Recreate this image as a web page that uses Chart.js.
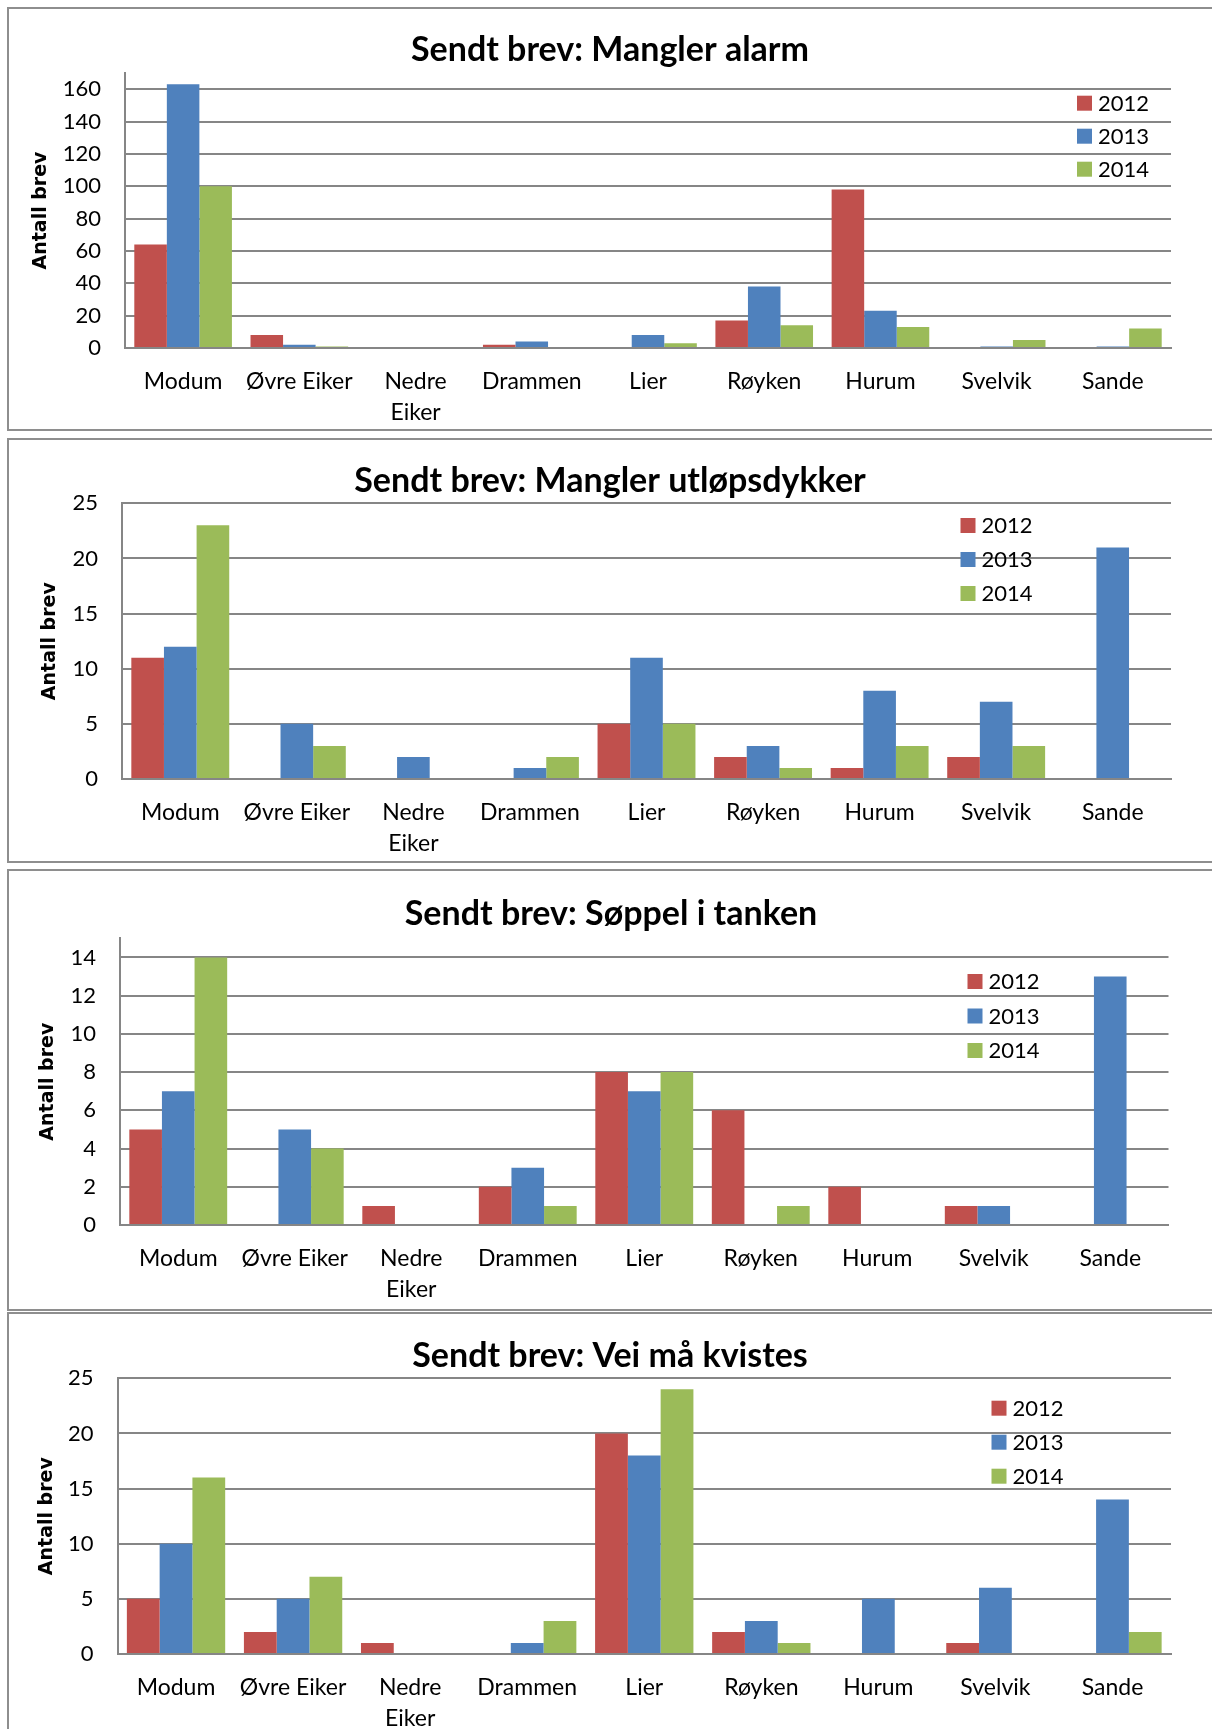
<!DOCTYPE html>
<html lang="no">
<head>
<meta charset="utf-8">
<title>Sendt brev</title>
<script src="https://cdn.jsdelivr.net/npm/chart.js@4.4.1/dist/chart.umd.min.js"></script>
<style>
    html, body { margin: 0; padding: 0; background: #fff; }
    body { position: relative; width: 1212px; height: 1729px; overflow: hidden; }
    .panel { position: absolute; left: 7px; width: 1240px; border: 2px solid #8e8e8e; box-sizing: border-box; }
    canvas { position: absolute; left: 0; }
</style>
</head>
<body>
<div class="panel" style="top:7px;height:424px"></div>
<div class="panel" style="top:438px;height:425px"></div>
<div class="panel" style="top:869px;height:442px"></div>
<div class="panel" style="top:1312px;height:500px"></div>

<canvas id="alarmChart" width="1212" height="424" style="top:7px"></canvas>
<canvas id="dykkerChart" width="1212" height="425" style="top:438px"></canvas>
<canvas id="soppelChart" width="1212" height="442" style="top:869px"></canvas>
<canvas id="kvistChart" width="1212" height="417" style="top:1312px"></canvas>

<script>
const kommuner = ['Modum', 'Øvre Eiker', ['Nedre', 'Eiker'], 'Drammen', 'Lier', 'Røyken', 'Hurum', 'Svelvik', 'Sande'];
const years = ['2012', '2013', '2014'];

// Sendt brev: Mangler alarm
const alarm2012 = [64, 8, 0, 2, 0, 17, 98, 0, 0];
const alarm2013 = [163, 2, 0, 4, 8, 38, 23, 1, 1];
const alarm2014 = [100, 1, 0, 0, 3, 14, 13, 5, 12];
const alarmTicks = [0, 20, 40, 60, 80, 100, 120, 140, 160];

// Sendt brev: Mangler utløpsdykker
const dykker2012 = [11, 0, 0, 0, 5, 2, 1, 2, 0];
const dykker2013 = [12, 5, 2, 1, 11, 3, 8, 7, 21];
const dykker2014 = [23, 3, 0, 2, 5, 1, 3, 3, 0];
const dykkerTicks = [0, 5, 10, 15, 20, 25];

// Sendt brev: Søppel i tanken
const soppel2012 = [5, 0, 1, 2, 8, 6, 2, 1, 0];
const soppel2013 = [7, 5, 0, 3, 7, 0, 0, 1, 13];
const soppel2014 = [14, 4, 0, 1, 8, 1, 0, 0, 0];
const soppelTicks = [0, 2, 4, 6, 8, 10, 12, 14];

// Sendt brev: Vei må kvistes
const kvist2012 = [5, 2, 1, 0, 20, 2, 0, 1, 0];
const kvist2013 = [10, 5, 0, 1, 18, 3, 5, 6, 14];
const kvist2014 = [16, 7, 0, 3, 24, 1, 0, 0, 2];
const kvistTicks = [0, 5, 10, 15, 20, 25];

const colors = ['#C0504D', '#4F81BD', '#9BBB59'];
const gridGray = '#868686';

// legend drawn inside the plot area, like the Excel original
const yearLegend = {
    id: 'yearLegend',
    afterDraw(chart, args, opts) {
        const ctx = chart.ctx;
        ctx.save();
        ctx.font = '22px Lato';
        ctx.textBaseline = 'middle';
        ctx.textAlign = 'left';
        chart.data.datasets.forEach((ds, i) => {
            const y = opts.y + i * opts.gap;
            ctx.fillStyle = ds.backgroundColor;
            ctx.fillRect(opts.x, y, 15, 15);
            ctx.fillStyle = '#000';
            ctx.fillText(ds.label, opts.x + 21, y + 8);
        });
        ctx.restore();
    }
};

function drawChart(id, title, v2012, v2013, v2014, tickValues, s) {
    const canvas = document.getElementById(id);
    const h = canvas.height;
    const tLine = 34 * 1.2;
    const yLine = 19 * 1.2;

    new Chart(canvas.getContext('2d'), {
        type: 'bar',
        data: {
            labels: kommuner,
            datasets: [
                { label: years[0], data: v2012, backgroundColor: colors[0] },
                { label: years[1], data: v2013, backgroundColor: colors[1] },
                { label: years[2], data: v2014, backgroundColor: colors[2] }
            ]
        },
        options: {
            responsive: false,
            animation: false,
            layout: { padding: { left: s.padLeft, right: 1212 - s.right, top: 0, bottom: 0 } },
            datasets: { bar: { barPercentage: 1, categoryPercentage: 0.84 } },
            plugins: {
                legend: { display: false },
                tooltip: { enabled: false },
                title: {
                    display: true,
                    text: title,
                    color: '#000',
                    font: { family: 'Lato', size: 34, weight: 'bold', lineHeight: 1.2 },
                    padding: { top: s.titleY - tLine / 2, bottom: s.top - s.titleY - tLine / 2 }
                },
                yearLegend: { x: s.legX, y: s.legY, gap: s.legGap }
            },
            scales: {
                x: {
                    grid: { display: false, drawTicks: false },
                    border: { display: true, color: gridGray, width: 2 },
                    ticks: {
                        color: '#000',
                        padding: 18,
                        maxRotation: 0,
                        autoSkip: false,
                        font: { family: 'Lato', size: 23, lineHeight: 1.35 }
                    },
                    afterFit: ax => { ax.height = h - s.bottom; }
                },
                y: {
                    min: 0,
                    max: s.max,
                    ticks: {
                        color: '#000',
                        padding: 24,
                        font: { family: 'Lato', size: 22 }
                    },
                    afterBuildTicks: ax => { ax.ticks = tickValues.map(v => ({ value: v })); },
                    grid: { color: gridGray, lineWidth: 2, drawTicks: false },
                    border: { display: true, color: gridGray, width: 2 },
                    title: {
                        display: true,
                        text: 'Antall brev',
                        color: '#000',
                        font: { family: 'DejaVu Sans', size: 19, weight: 'bold', lineHeight: 1.2 },
                        padding: { top: s.yTitleX - s.padLeft - yLine / 2, bottom: 0 }
                    },
                    afterFit: ax => { ax.width = s.left - s.padLeft; }
                }
            }
        },
        plugins: [yearLegend]
    });
}

drawChart('alarmChart', 'Sendt brev: Mangler alarm', alarm2012, alarm2013, alarm2014, alarmTicks, {
    left: 125, right: 1171, top: 66, bottom: 341, titleY: 43.2, padLeft: 49, yTitleX: 41,
    max: 170, legX: 1077, legY: 88.7, legGap: 33
});

drawChart('dykkerChart', 'Sendt brev: Mangler utløpsdykker', dykker2012, dykker2013, dykker2014, dykkerTicks, {
    left: 122, right: 1171, top: 65.3, bottom: 341, titleY: 43, padLeft: 49, yTitleX: 50,
    max: 25, legX: 960.5, legY: 80, legGap: 34
});

drawChart('soppelChart', 'Sendt brev: Søppel i tanken', soppel2012, soppel2013, soppel2014, soppelTicks, {
    left: 120, right: 1168.5, top: 69.3, bottom: 356, titleY: 45, padLeft: 53.5, yTitleX: 48,
    max: 15, legX: 967.5, legY: 105, legGap: 34.5
});

drawChart('kvistChart', 'Sendt brev: Vei må kvistes', kvist2012, kvist2013, kvist2014, kvistTicks, {
    left: 117.5, right: 1171, top: 66.3, bottom: 342, titleY: 44, padLeft: 49, yTitleX: 47,
    max: 25, legX: 991.5, legY: 88.7, legGap: 34
});
</script>
</body>
</html>
